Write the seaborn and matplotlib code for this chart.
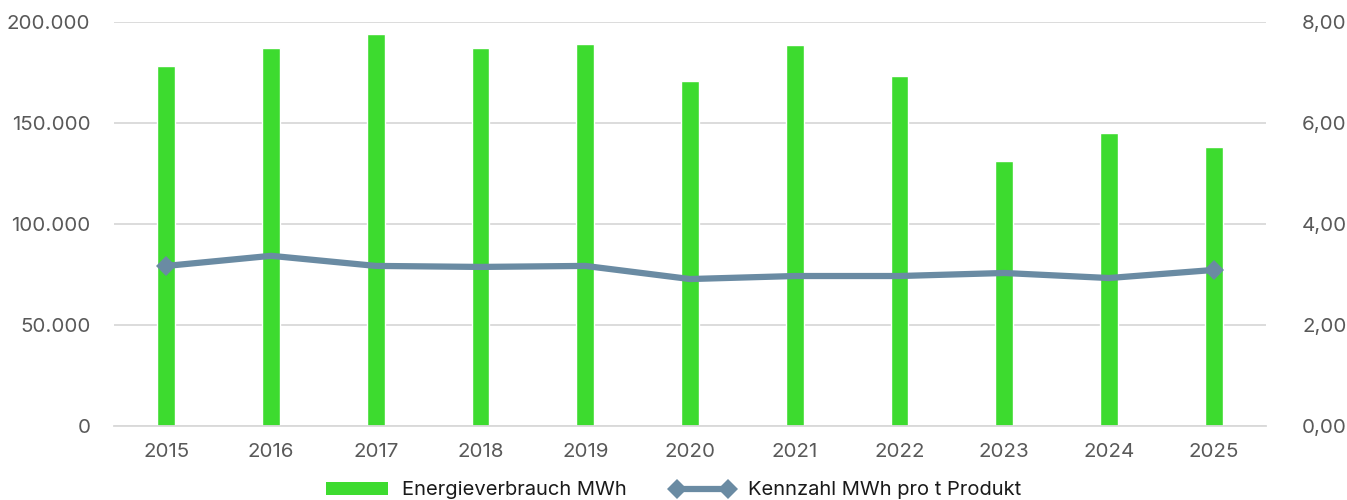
import numpy as np
import pandas as pd
import matplotlib
matplotlib.use("Agg")
import matplotlib.pyplot as plt
import seaborn as sns
from matplotlib.lines import Line2D
from matplotlib.patches import Patch

# chart data
years = ["2015", "2016", "2017", "2018", "2019", "2020", "2021", "2022", "2023", "2024", "2025"]
energy_mwh = [178200, 187300, 194000, 187200, 189200, 170800, 188700, 173300, 131300, 145000, 138200]
kennzahl = [3.17, 3.37, 3.17, 3.15, 3.17, 2.91, 2.97, 2.97, 3.03, 2.93, 3.09]

bar_color = "#3ddb2f"
line_color = "#6a8ba3"
text_color = "#595959"

sns.set_theme(style="white")
plt.rcParams["font.family"] = ["Inter", "DejaVu Sans"]

df = pd.DataFrame({"Jahr": years, "Energie": energy_mwh, "Kennzahl": kennzahl})

fig = plt.figure(figsize=(13.47, 5.0), dpi=100)
ax = fig.add_axes([114 / 1347, 1 - 426 / 500, (1266 - 114) / 1347, (426 - 22) / 500])

sns.barplot(data=df, x="Jahr", y="Energie", color=bar_color, width=0.17,
            saturation=1, ax=ax, zorder=2)
ax.set_ylim(0, 200000)
ax.set_xlim(-0.5, len(years) - 0.5)
ax.set_yticks(np.arange(0, 200001, 50000))
ax.set_yticklabels(["0" if v == 0 else f"{v:,}".replace(",", ".") for v in range(0, 200001, 50000)])
ax.yaxis.grid(True, color="#d9d9d9", linewidth=1.3, zorder=0)
ax.set_axisbelow(True)
ax.set_xlabel("")
ax.set_ylabel("")
for s in ["top", "right", "left"]:
    ax.spines[s].set_visible(False)
ax.spines["bottom"].set_color("#d9d9d9")
ax.spines["bottom"].set_linewidth(1.3)
ax.tick_params(axis="both", length=0, labelsize=14.8, colors=text_color)
ax.tick_params(axis="x", pad=12)
ax.tick_params(axis="y", pad=17)

ax2 = ax.twinx()
x = np.arange(len(years))
sns.lineplot(x=x, y=df["Kennzahl"], color=line_color, linewidth=4.5, ax=ax2,
             marker="D", markersize=10, markevery=[0, len(years) - 1],
             markeredgewidth=0, zorder=3)
ax2.set_ylim(0, 8)
ax2.set_yticks(np.arange(0, 8.01, 2))
ax2.set_yticklabels([f"{v:.2f}".replace(".", ",") for v in np.arange(0, 8.01, 2)])
ax2.set_ylabel("")
for s in ["top", "right", "left", "bottom"]:
    ax2.spines[s].set_visible(False)
ax2.tick_params(axis="y", length=0, labelsize=14.8, colors=text_color, pad=26)

handles = [
    Patch(facecolor=bar_color, edgecolor="none"),
    Line2D([0], [0], color=line_color, linewidth=4.5, marker="D", markersize=10,
           markeredgewidth=0),
]
fig.legend(handles, ["Energieverbrauch MWh", "Kennzahl MWh pro t Produkt"],
           loc="lower center", bbox_to_anchor=(0.5, -0.035), ncol=2, frameon=False,
           fontsize=14.5, labelcolor="#1a1a1a", handlelength=3.1, handleheight=0.6,
           handletextpad=0.7, numpoints=2, columnspacing=2.2)

fig.savefig("out.png", dpi=100)
